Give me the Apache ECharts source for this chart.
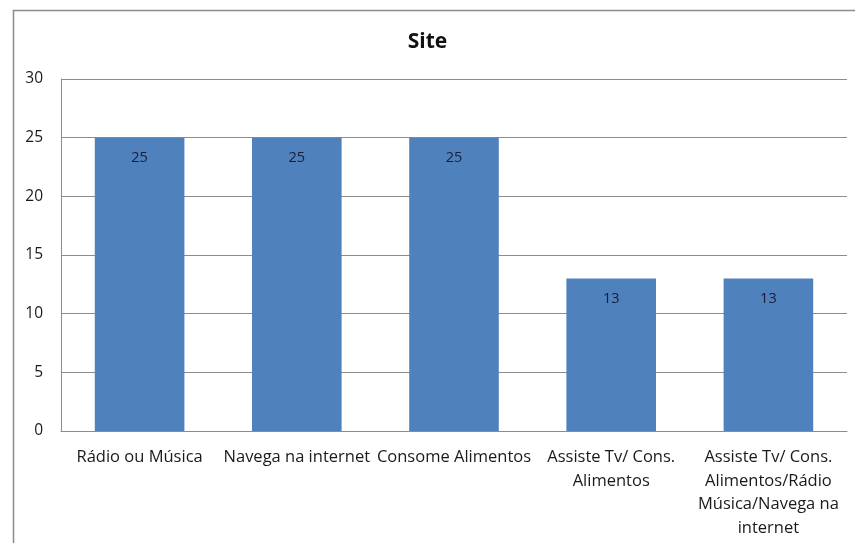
<!DOCTYPE html>
<html>
<head>
<meta charset="utf-8">
<script src="https://cdn.jsdelivr.net/npm/echarts@6/dist/echarts.min.js"></script>
<style>
  html, body { margin: 0; padding: 0; background: #fff; }
  #chart { width: 855px; height: 543px; }
</style>
</head>
<body>
<div id="chart"></div>
<script>
// Activities reported while using the site
const categories = [
  'Rádio ou Música',
  'Navega na internet',
  'Consome Alimentos',
  'Assiste Tv/ Cons.\nAlimentos',
  'Assiste Tv/ Cons.\nAlimentos/Rádio\nMúsica/Navega na\ninternet'
];
const values = [25, 25, 25, 13, 13];
const yTicks = { min: 0, max: 30, interval: 5 };

const FONT = '"Open Sans", "DejaVu Sans", sans-serif';
const chart = echarts.init(document.getElementById('chart'), null, { renderer: 'canvas' });

chart.setOption({
  animation: false,
  backgroundColor: '#ffffff',
  graphic: [{
    type: 'rect',
    shape: { x: 13.5, y: 10.5, width: 900, height: 600 },
    style: { fill: 'none', stroke: '#8c8c8c', lineWidth: 1.5 },
    silent: true
  }],
  title: {
    text: 'Site',
    left: 'center',
    top: 27,
    textStyle: { fontFamily: FONT, fontSize: 21, fontWeight: 'bold', color: '#111' }
  },
  grid: { left: 61, right: 8, top: 79, bottom: 112, containLabel: false },
  xAxis: {
    type: 'category',
    data: categories,
    axisLine: { show: true, lineStyle: { color: '#8c8c8c', width: 1 } },
    axisTick: { show: false },
    axisLabel: {
      interval: 0,
      margin: 15,
      fontFamily: FONT,
      fontSize: 16.5,
      lineHeight: 23.5,
      color: '#1a1a1a'
    }
  },
  yAxis: {
    type: 'value',
    min: yTicks.min,
    max: yTicks.max,
    interval: yTicks.interval,
    axisLine: { show: true, lineStyle: { color: '#8c8c8c', width: 1 } },
    axisTick: { show: false },
    splitLine: { show: true, lineStyle: { color: '#8c8c8c', width: 1 } },
    axisLabel: { margin: 18, fontFamily: FONT, fontSize: 15.5, color: '#1a1a1a' }
  },
  series: [{
    type: 'bar',
    data: values,
    barWidth: '57%',
    itemStyle: { color: '#4f81bd' },
    label: {
      show: true,
      position: 'insideTop',
      distance: 13,
      fontFamily: FONT,
      fontSize: 14.5,
      color: '#1c1c3a'
    }
  }]
});
</script>
</body>
</html>
